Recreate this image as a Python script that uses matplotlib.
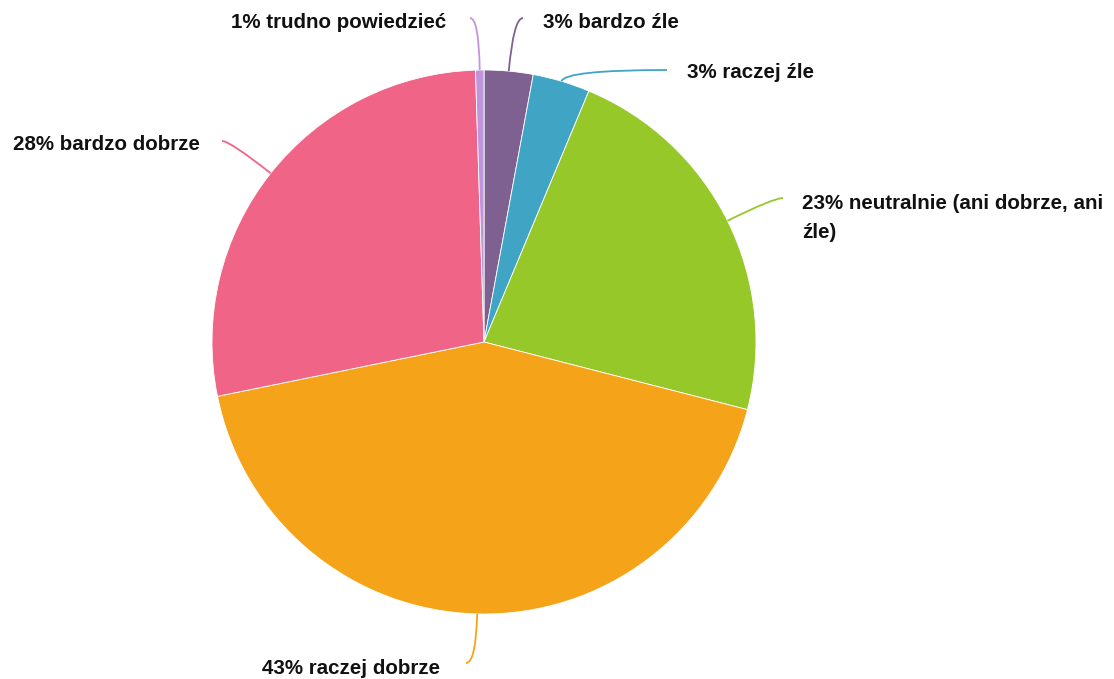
import math
import matplotlib
matplotlib.use("Agg")
import matplotlib.pyplot as plt
from matplotlib.path import Path
from matplotlib.patches import PathPatch

# answers, clockwise from 12 o'clock
names = ["bardzo źle", "raczej źle", "neutralnie (ani dobrze, ani\nźle)",
         "raczej dobrze", "bardzo dobrze", "trudno powiedzieć"]
values = [2.9, 3.4, 22.7, 42.8, 27.7, 0.5]
colors = ["#7e6191", "#40a4c5", "#96c82a", "#f5a41a", "#f06487", "#c195dd"]

W, H = 1114, 679
CX, CY, R = 484, 342, 272   # pie centre / radius in pixels (y from top)

# label anchor (pixel coords, y from top) and alignment
label_pos = [(543, 23, "left"), (687, 73, "left"), (802, 218, "left"),
             (262, 668, "left"), (200, 145, "right"), (446, 23, "right")]
# where each leader line ends
leader_end = [(523, 18), (667, 70), (783, 198), (466, 663), (222, 141), (470, 18)]


def px(x, y):
    return x, H - y


plt.rcParams['font.family'] = ['Liberation Sans', 'DejaVu Sans']

fig = plt.figure(figsize=(W / 100, H / 100), dpi=100)
ax = fig.add_axes([0, 0, 1, 1])

ax.pie(values, colors=colors, startangle=90, counterclock=False,
       center=px(CX, CY), radius=R,
       wedgeprops=dict(edgecolor="white", linewidth=0.6))
ax.set_xlim(0, W)
ax.set_ylim(0, H)
ax.set_aspect("auto")
ax.axis("off")

total = sum(values)
cum = 0.0
for name, v, col, (lx, ly, ha), (ex, ey) in zip(names, values, colors, label_pos, leader_end):
    mid = (cum + v / 2) / total * 2 * math.pi   # clockwise from top
    cum += v
    dx, dy = math.sin(mid), -math.cos(mid)      # pixel direction (y down)
    sx, sy = CX + R * dx, CY + R * dy
    # control point: run radially until the label's height
    t = (ey - sy) / dy if abs(dy) > 1e-6 else 0
    cx_, cy_ = sx + t * dx, ey
    path = Path([px(sx, sy), px(cx_, cy_), px(ex, ey)],
                [Path.MOVETO, Path.CURVE3, Path.CURVE3])
    ax.add_patch(PathPatch(path, facecolor="none", edgecolor=col, lw=1.3))

    pct = math.floor(v + 0.5)
    ax.text(*px(lx, ly), f"{pct}% {name}", ha=ha, va="center",
            fontsize=14.8, fontweight="bold", color="#111111", linespacing=1.65)

fig.savefig("out.png", dpi=100)
